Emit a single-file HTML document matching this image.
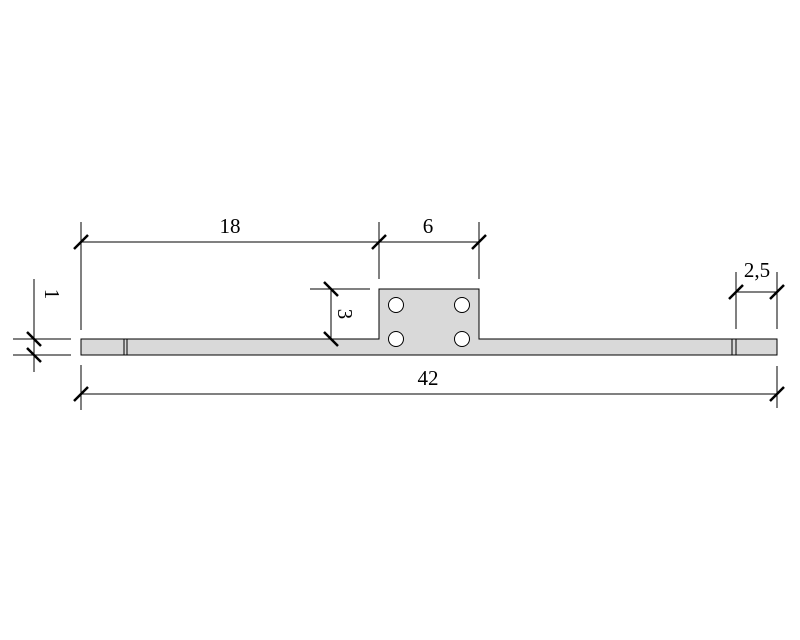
<!DOCTYPE html>
<html><head><style>body{margin:0;background:#fff}</style></head><body>
<svg width="800" height="640" xmlns="http://www.w3.org/2000/svg" style="display:block">
<rect width="800" height="640" fill="#fff"/>
<g stroke="#000" stroke-width="1" fill="none">
<path d="M81,339 H379 V289 H479 V339 H777 V355 H81 Z" fill="#d9d9d9"/>
<line x1="124" y1="339" x2="124" y2="355"/><line x1="127" y1="339" x2="127" y2="355"/>
<line x1="732" y1="339" x2="732" y2="355"/><line x1="736" y1="339" x2="736" y2="355"/>
<g fill="#fff"><circle cx="396" cy="305" r="7.5"/><circle cx="462" cy="305" r="7.5"/><circle cx="396" cy="339" r="7.5"/><circle cx="462" cy="339" r="7.5"/></g>
<!-- dim 18/6 -->
<line x1="81" y1="242" x2="479" y2="242"/>
<line x1="81" y1="222" x2="81" y2="330"/>
<line x1="379" y1="222" x2="379" y2="279"/>
<line x1="479" y1="222" x2="479" y2="279"/>
<!-- 42 -->
<line x1="81" y1="394" x2="777" y2="394"/>
<line x1="81" y1="365" x2="81" y2="410"/>
<line x1="777" y1="366" x2="777" y2="408"/>
<!-- 3 -->
<line x1="331" y1="289" x2="331" y2="339"/>
<line x1="310" y1="289" x2="370" y2="289"/>
<!-- 1 -->
<line x1="34" y1="279" x2="34" y2="372"/>
<line x1="13" y1="339" x2="71" y2="339"/>
<line x1="13" y1="355" x2="71" y2="355"/>
<!-- 2,5 -->
<line x1="736" y1="292" x2="777" y2="292"/>
<line x1="736" y1="272" x2="736" y2="329"/>
<line x1="777" y1="272" x2="777" y2="329"/>
</g>
<g stroke="#000" stroke-width="2.5">
<line x1="74" y1="249" x2="88" y2="235"/>
<line x1="372" y1="249" x2="386" y2="235"/>
<line x1="472" y1="249" x2="486" y2="235"/>
<line x1="74" y1="401" x2="88" y2="387"/>
<line x1="770" y1="401" x2="784" y2="387"/>
<line x1="729" y1="299" x2="743" y2="285"/>
<line x1="770" y1="299" x2="784" y2="285"/>
<line x1="324" y1="282" x2="338" y2="296"/>
<line x1="324" y1="332" x2="338" y2="346"/>
<line x1="27" y1="332" x2="41" y2="346"/>
<line x1="27" y1="348" x2="41" y2="362"/>
</g>
<g font-family="Liberation Serif, serif" font-size="21" fill="#000" text-anchor="middle">
<text x="230" y="233">18</text>
<text x="428" y="233">6</text>
<text x="428" y="385">42</text>
<text x="757" y="277">2,5</text>
<text transform="translate(338,314) rotate(90)">3</text>
<text transform="translate(45,294) rotate(90)">1</text>
</g>
</svg>
</body></html>
